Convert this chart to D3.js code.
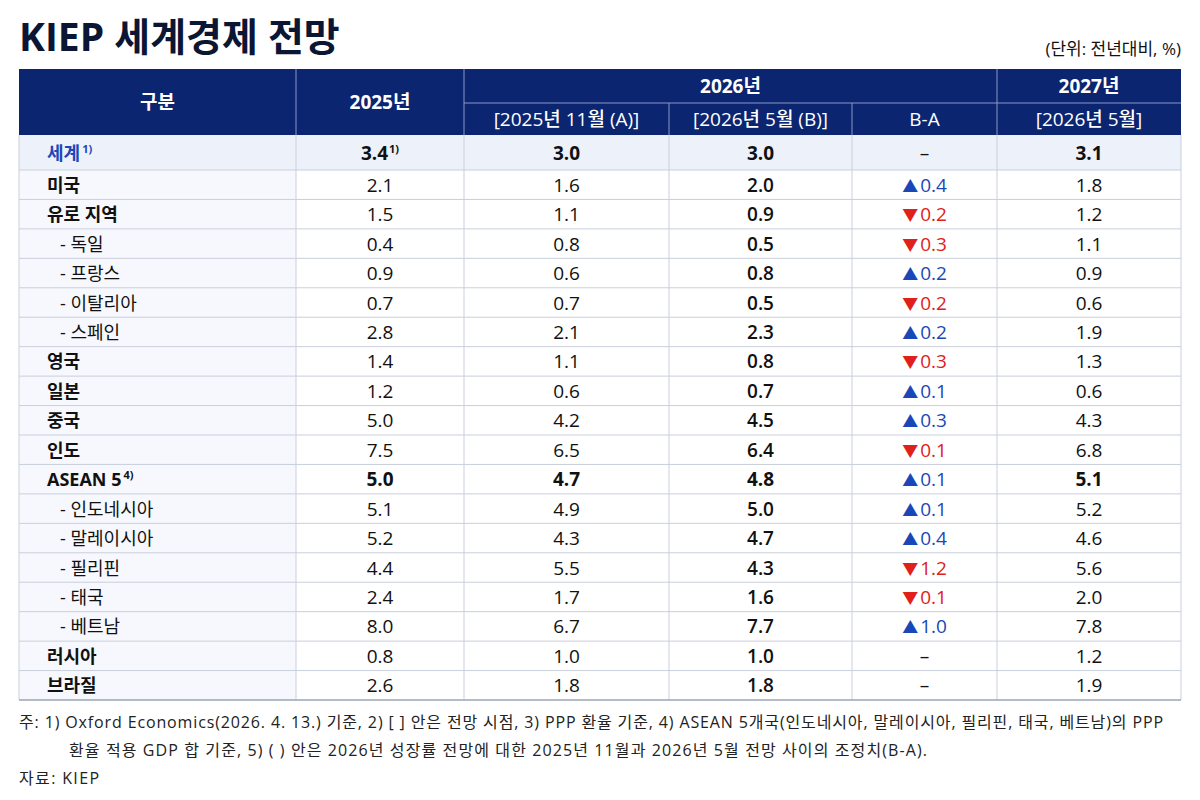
<!DOCTYPE html>
<html lang="ko">
<head>
<meta charset="UTF-8">
<title>KIEP 세계경제 전망</title>
<script src="https://cdn.jsdelivr.net/npm/d3@7"></script>
<style>
    body{ margin:0; background:#fff; }
    text{ font-family:"Open Sans","Noto Sans CJK KR",sans-serif; }
</style>
</head>
<body>
<svg id="chart" width="1200" height="800"></svg>
<script>
    // table data
    let regions = ["세계", "미국", "유로 지역", "- 독일", "- 프랑스", "- 이탈리아", "- 스페인", "영국", "일본", "중국", "인도",
        "ASEAN 5", "- 인도네시아", "- 말레이시아", "- 필리핀", "- 태국", "- 베트남", "러시아", "브라질"]
    let v2025 = [3.4, 2.1, 1.5, 0.4, 0.9, 0.7, 2.8, 1.4, 1.2, 5.0, 7.5, 5.0, 5.1, 5.2, 4.4, 2.4, 8.0, 0.8, 2.6]
    let v2026a = [3.0, 1.6, 1.1, 0.8, 0.6, 0.7, 2.1, 1.1, 0.6, 4.2, 6.5, 4.7, 4.9, 4.3, 5.5, 1.7, 6.7, 1.0, 1.8]
    let v2026b = [3.0, 2.0, 0.9, 0.5, 0.8, 0.5, 2.3, 0.8, 0.7, 4.5, 6.4, 4.8, 5.0, 4.7, 4.3, 1.6, 7.7, 1.0, 1.8]
    let diff = [null, 0.4, -0.2, -0.3, 0.2, -0.2, 0.2, -0.3, 0.1, 0.3, -0.1, 0.1, 0.1, 0.4, -1.2, -0.1, 1.0, null, null]
    let v2027 = [3.1, 1.8, 1.2, 1.1, 0.9, 0.6, 1.9, 1.3, 0.6, 4.3, 6.8, 5.1, 5.2, 4.6, 5.6, 2.0, 7.8, 1.2, 1.9]
    let sup = {0: "1)", 11: "4)"}

    let navy = "#0b2570", blue = "#1a47b8", red = "#e0201b", ink = "#111"
    let svg = d3.select("#chart")

    // columns
    let colEdges = [19, 296, 464, 669, 852, 997, 1181]
    let x = i => colEdges[i], xc = i => (colEdges[i] + colEdges[i + 1]) / 2

    // rows
    let y = d3.scaleLinear().domain([1, 19]).range([170, 700])
    let rowTop = i => i === 0 ? 135 : y(i)
    let rowBot = i => i === 0 ? 170 : y(i + 1)

    // title
    svg.append("text").attr("x", 19).attr("y", 51).attr("font-size", 39).attr("font-weight", 700)
        .attr("fill", "#0a1633").text("KIEP 세계경제 전망")
    svg.append("text").attr("x", 1181).attr("y", 55).attr("text-anchor", "end").attr("font-size", 17)
        .attr("fill", ink).text("(단위: 전년대비, %)")

    // header
    svg.append("rect").attr("x", 19).attr("y", 69).attr("width", 1162).attr("height", 66).attr("fill", navy)
    let hl = svg.append("g").attr("stroke", "#8a9ac4").attr("stroke-width", 1)
    hl.append("line").attr("x1", 464).attr("x2", 1181).attr("y1", 103).attr("y2", 103)
    ;[296, 464, 997].forEach(v => hl.append("line").attr("x1", v).attr("x2", v).attr("y1", 69).attr("y2", 135))
    ;[669, 852].forEach(v => hl.append("line").attr("x1", v).attr("x2", v).attr("y1", 103).attr("y2", 135))
    let hdr = [
        [xc(0), 109, "구분"], [xc(1), 109, "2025년"], [(x(2) + x(5)) / 2, 93, "2026년"], [xc(5), 93, "2027년"],
        [xc(2), 126, "[2025년 11월 (A)]"], [xc(3), 126, "[2026년 5월 (B)]"], [xc(4), 126, "B-A"], [xc(5), 126, "[2026년 5월]"]
    ]
    svg.append("g").selectAll("text").data(hdr).join("text")
        .attr("x", d => d[0]).attr("y", d => d[1]).attr("text-anchor", "middle")
        .attr("font-size", 19).attr("font-weight", (d, i) => i < 4 ? 700 : 500).attr("fill", "#fff").text(d => d[2])

    // body backgrounds
    svg.append("rect").attr("x", 19).attr("y", 135).attr("width", 1162).attr("height", 35).attr("fill", "#edf1fa")
    svg.append("rect").attr("x", 19).attr("y", 170).attr("width", 277).attr("height", 530).attr("fill", "#f6f8fd")

    // grid
    let grid = svg.append("g").attr("stroke", "#c9cfdc").attr("stroke-width", 1)
    d3.range(1, 19).forEach(i => grid.append("line").attr("x1", 19).attr("x2", 1181).attr("y1", rowTop(i)).attr("y2", rowTop(i)))
    colEdges.forEach(v => grid.append("line").attr("x1", v).attr("x2", v).attr("y1", 135).attr("y2", 700))
    svg.append("line").attr("x1", 19).attr("x2", 1181).attr("y1", 700).attr("y2", 700).attr("stroke", "#9aa3b8").attr("stroke-width", 1.5)

    // rows
    let body = svg.append("g")
    regions.forEach((name, i) => {
        let cy = (rowTop(i) + rowBot(i)) / 2 + 7
        let sub = name.startsWith("- ")
        let strong = i === 0 || i === 11
        let lab = body.append("text").attr("x", sub ? 60 : 47).attr("y", cy).attr("font-size", 18)
            .attr("font-weight", sub ? 400 : 700).attr("fill", i === 0 ? blue : ink)
        lab.append("tspan").text(sub ? "- " + name.slice(2) : name)
        if (sup[i]) lab.append("tspan").attr("font-size", 11).attr("dy", -7).attr("dx", 2).text(sup[i])

        let vals = [v2025[i], v2026a[i], v2026b[i], null, v2027[i]]
        vals.forEach((v, c) => {
            if (c === 3) return
            let t = body.append("text").attr("x", xc(c + 1)).attr("y", cy).attr("text-anchor", "middle")
                .attr("font-size", 19).attr("fill", ink)
                .attr("font-weight", strong ? 700 : (c === 2 ? 600 : 400))
            t.append("tspan").text(d3.format(".1f")(v))
            if (i === 0 && c === 0) t.append("tspan").attr("font-size", 11).attr("dy", -7).attr("dx", 1).text("1)")
        })
        let d = diff[i]
        let t = body.append("text").attr("x", xc(4)).attr("y", cy).attr("text-anchor", "middle").attr("font-size", 19)
        if (d === null) t.attr("fill", ink).text("–")
        else {
            t.attr("fill", d > 0 ? blue : red)
            t.append("tspan").attr("font-size", 16).text(d > 0 ? "▲" : "▼")
            t.append("tspan").attr("dx", 2).text(d3.format(".1f")(Math.abs(d)))
        }
    })

    // notes
    let notes = [
        [19, 728, 1144, "주:  1) Oxford Economics(2026. 4. 13.) 기준, 2) [  ] 안은 전망 시점, 3) PPP 환율 기준, 4) ASEAN 5개국(인도네시아, 말레이시아, 필리핀, 태국, 베트남)의 PPP"],
        [69, 756, 858, "환율 적용 GDP 합 기준, 5) (   ) 안은 2026년 성장률 전망에 대한 2025년 11월과 2026년 5월 전망 사이의 조정치(B-A)."],
        [19, 784, 80, "자료:  KIEP"]
    ]
    svg.append("g").selectAll("text").data(notes).join("text")
        .attr("x", d => d[0]).attr("y", d => d[1]).attr("font-size", 16).attr("fill", "#222")
        .attr("textLength", d => d[2]).attr("lengthAdjust", "spacing").text(d => d[3])
</script>
</body>
</html>
